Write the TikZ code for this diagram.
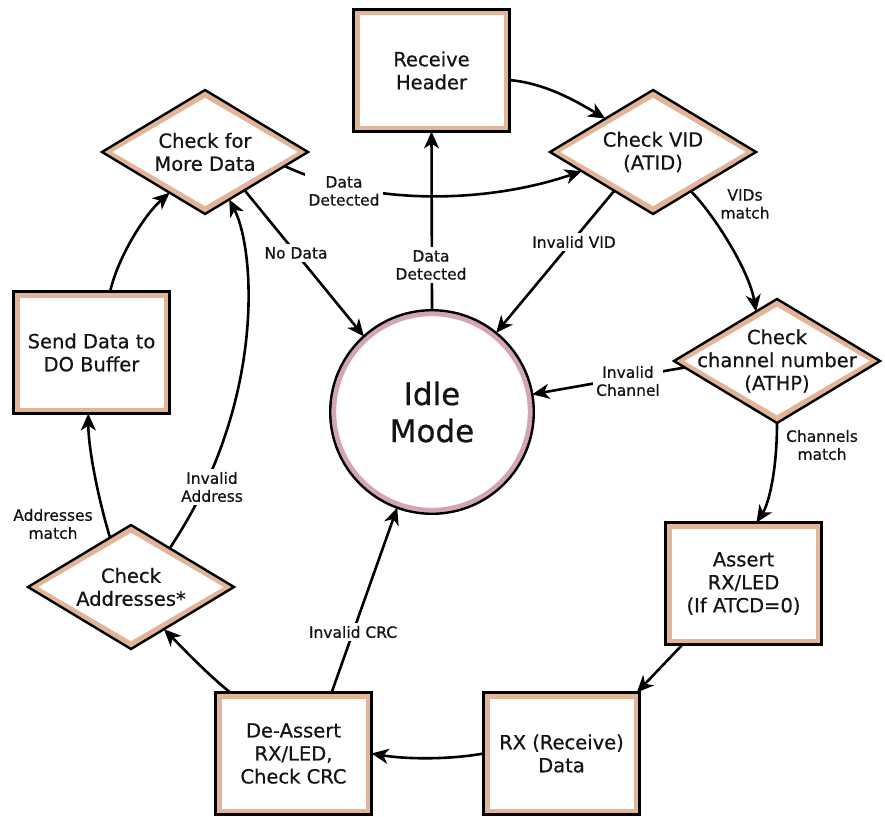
\documentclass[tikz,border=0pt]{standalone}
\usepackage{fontspec}
\setmainfont{DejaVu Sans}[BoldFont={DejaVu Sans}, BoldFeatures={FakeBold=0.6}]
\usetikzlibrary{shapes.geometric,arrows.meta}
\definecolor{tanc}{RGB}{226,180,152}
\definecolor{pinkc}{RGB}{212,164,184}
\definecolor{txt}{RGB}{20,20,20}
\tikzset{
  every node/.style={text=txt},
  nodefont/.style={font=\fontsize{19.5}{23}\selectfont\bfseries, align=center},
  boxnode/.style={nodefont, rectangle, draw=tanc, line width=6pt, fill=white,
    minimum width=150pt, minimum height=116pt, inner sep=0pt},
  dianode/.style={nodefont, diamond, draw=tanc, line width=6pt, fill=white,
    minimum width=200pt, minimum height=118pt, inner sep=-25pt, aspect=1.65},
  idlenode/.style={font=\fontsize{31}{37}\selectfont\bfseries, align=center, circle,
    draw=pinkc, line width=6pt, fill=white, minimum size=197.6pt, inner sep=0pt},
  outline/.style={draw=black, line width=2.4pt, line join=miter},
  conn/.style={draw=black, line width=2.6pt, -{Stealth[length=17pt,width=15pt,inset=5pt]}},
  lbl/.style={font=\fontsize{15.5}{18}\selectfont\bfseries, align=center, fill=white, inner sep=3pt},
  lblb/.style={font=\fontsize{15.5}{18}\selectfont\bfseries, align=center, inner sep=1pt},
}
\begin{document}
\begin{tikzpicture}[x=1pt,y=-1pt]
\useasboundingbox (0,0) rectangle (885,816);
\fill[white] (0,0) rectangle (885,816);

% nodes
\node[boxnode] (rh) at (431.5,70.5) {Receive\\Header};
\node[boxnode] (send) at (91.5,352.5) {Send Data to\\DO Buffer};
\node[boxnode] (assert) at (743.5,583.5) {Assert\\RX/LED\\(If ATCD=0)};
\node[boxnode] (rx) at (561.5,753.5) {RX (Receive)\\Data};
\node[boxnode] (deassert) at (293.5,753.5) {De-Assert\\RX/LED,\\Check CRC};
\node[dianode] (moredata) at (205,152) {Check for\\More Data};
\node[dianode] (checkvid) at (653,152) {Check VID\\(ATID)};
\node[dianode] (chan) at (777,361) {Check\\channel number\\(ATHP)};
\node[dianode] (addr) at (131,587) {Check\\Addresses*};
\node[idlenode] (idle) at (432,412) {Idle\\Mode};

% black outer outlines
\foreach \n in {rh,send,assert,rx,deassert}
  \draw[outline] (\n.north west) rectangle (\n.south east);
\foreach \n in {moredata,checkvid,chan,addr}
  \draw[outline] (\n.north) -- (\n.east) -- (\n.south) -- (\n.west) -- cycle;
\draw[outline] (idle.center) circle (101.8);

% connectors
\draw[conn] (rh.-7) .. controls +(35,3) and +(-30,-18) .. (checkvid.145);
\draw[conn] (moredata.-10) .. controls +(92,43) and +(-87,30) .. (checkvid.195);
\draw[conn] (moredata.-44) -- (idle.132);
\draw[conn] (idle.north) -- (rh.south);
\draw[conn] (checkvid.-135) -- (idle.51);
\draw[conn] (checkvid.-46) .. controls +(22,22) and +(-7,-42) .. (chan.113);
\draw[conn] (chan.184) -- (idle.10);
\draw[conn] (chan.south) .. controls +(0,45) and +(13,-20) .. (assert.78);
\draw[conn] (assert.-135) -- (rx.39);
\draw[conn] (rx.west) .. controls +(-33,6) and +(36,6) .. (deassert.east);
\draw[conn] (deassert.136) .. controls +(-25,-20) and +(15,15) .. (addr.-52);
\draw[conn] (deassert.58) -- (idle.-110);
\draw[conn] (addr.113) .. controls +(-13,-43) and +(0,33) .. (send.-93);
\draw[conn] (addr.45) .. controls +(97,-145) and +(26,50) .. (moredata.-63);
\draw[conn] (send.73) .. controls +(8,-35) and +(-25,22) .. (moredata.-131);

% labels
\node[lbl] (l1) at (344,191) {Data\\Detected};
\node[lbl] (l2) at (296,253) {No Data};
\node[lbl] (l3) at (431,265) {Data\\Detected};
\node[lbl] (l4) at (574,242) {Invalid VID};
\node[lblb] (l5) at (745,204) {VIDs\\match};
\node[lbl] (l6) at (628,381) {Invalid\\Channel};
\node[lblb] (l7) at (822,445) {Channels\\match};
\node[lbl] (l8) at (353,632) {Invalid CRC};
\node[lbl] (l9) at (212,487) {Invalid\\Address};
\node[lblb] (l10) at (53,524) {Addresses\\match};
\end{tikzpicture}
\end{document}
